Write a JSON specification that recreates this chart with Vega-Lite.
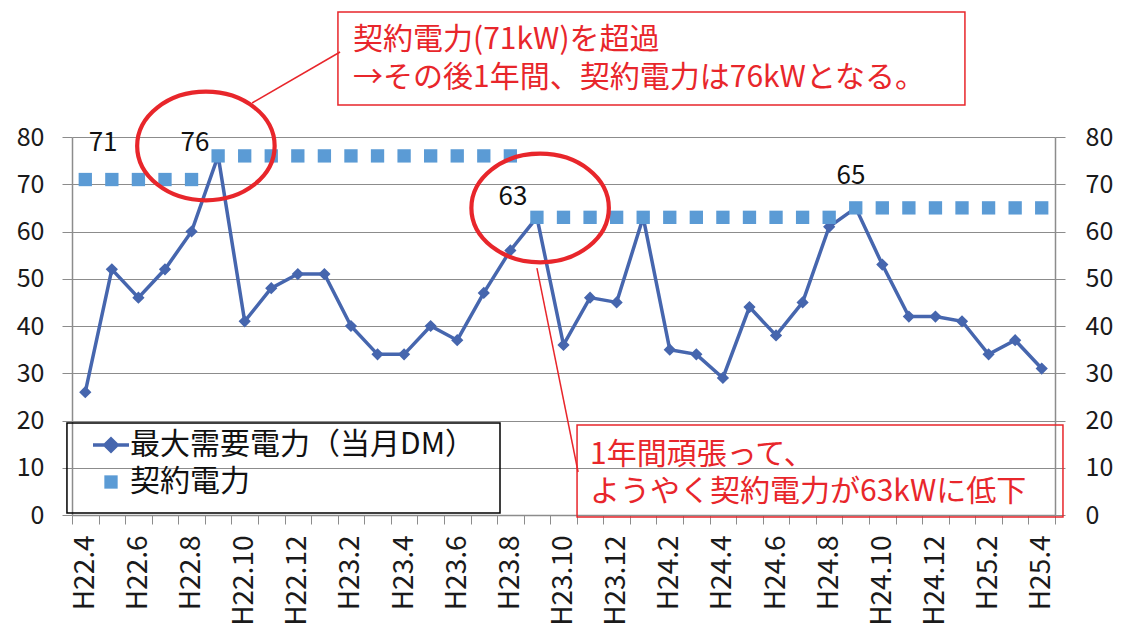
{
  "$schema": "https://vega.github.io/schema/vega-lite/v6.json",
  "width": 983,
  "height": 378,
  "autosize": {"type": "none"},
  "padding": {"left": 72, "top": 137, "right": 72, "bottom": 108},
  "background": "white",
  "config": {
    "font": "Noto Sans CJK JP",
    "view": {"stroke": null},
    "legend": {
      "labelFontSize": 30,
      "labelColor": "#111111",
      "labelFont": "Noto Sans CJK JP",
      "labelLimit": 500,
      "symbolSize": 1296,
      "rowPadding": 7,
      "labelOffset": 4,
      "padding": 0
    }
  },
  "datasets": {
    "m": [
      {"month": "H22.4", "i": 0, "demand": 26, "contract": 71},
      {"month": "H22.5", "i": 1, "demand": 52, "contract": 71},
      {"month": "H22.6", "i": 2, "demand": 46, "contract": 71},
      {"month": "H22.7", "i": 3, "demand": 52, "contract": 71},
      {"month": "H22.8", "i": 4, "demand": 60, "contract": 71},
      {"month": "H22.9", "i": 5, "demand": 76, "contract": 76},
      {"month": "H22.10", "i": 6, "demand": 41, "contract": 76},
      {"month": "H22.11", "i": 7, "demand": 48, "contract": 76},
      {"month": "H22.12", "i": 8, "demand": 51, "contract": 76},
      {"month": "H23.1", "i": 9, "demand": 51, "contract": 76},
      {"month": "H23.2", "i": 10, "demand": 40, "contract": 76},
      {"month": "H23.3", "i": 11, "demand": 34, "contract": 76},
      {"month": "H23.4", "i": 12, "demand": 34, "contract": 76},
      {"month": "H23.5", "i": 13, "demand": 40, "contract": 76},
      {"month": "H23.6", "i": 14, "demand": 37, "contract": 76},
      {"month": "H23.7", "i": 15, "demand": 47, "contract": 76},
      {"month": "H23.8", "i": 16, "demand": 56, "contract": 76},
      {"month": "H23.9", "i": 17, "demand": 63, "contract": 63},
      {"month": "H23.10", "i": 18, "demand": 36, "contract": 63},
      {"month": "H23.11", "i": 19, "demand": 46, "contract": 63},
      {"month": "H23.12", "i": 20, "demand": 45, "contract": 63},
      {"month": "H24.1", "i": 21, "demand": 63, "contract": 63},
      {"month": "H24.2", "i": 22, "demand": 35, "contract": 63},
      {"month": "H24.3", "i": 23, "demand": 34, "contract": 63},
      {"month": "H24.4", "i": 24, "demand": 29, "contract": 63},
      {"month": "H24.5", "i": 25, "demand": 44, "contract": 63},
      {"month": "H24.6", "i": 26, "demand": 38, "contract": 63},
      {"month": "H24.7", "i": 27, "demand": 45, "contract": 63},
      {"month": "H24.8", "i": 28, "demand": 61, "contract": 63},
      {"month": "H24.9", "i": 29, "demand": 65, "contract": 65},
      {"month": "H24.10", "i": 30, "demand": 53, "contract": 65},
      {"month": "H24.11", "i": 31, "demand": 42, "contract": 65},
      {"month": "H24.12", "i": 32, "demand": 42, "contract": 65},
      {"month": "H25.1", "i": 33, "demand": 41, "contract": 65},
      {"month": "H25.2", "i": 34, "demand": 34, "contract": 65},
      {"month": "H25.3", "i": 35, "demand": 37, "contract": 65},
      {"month": "H25.4", "i": 36, "demand": 31, "contract": 65}
    ]
  },
  "layer": [
    {
      "data": {"name": "m"},
      "mark": {"type": "line", "color": "#4666AE", "strokeWidth": 3.5},
      "encoding": {
        "x": {
          "field": "i", "type": "quantitative",
          "scale": {"domain": [-0.5, 36.5], "nice": false, "zero": false},
          "axis": {
            "orient": "bottom", "title": null,
            "values": [0, 2, 4, 6, 8, 10, 12, 14, 16, 18, 20, 22, 24, 26, 28, 30, 32, 34, 36],
            "labelExpr": "'H' + (22 + floor((datum.value + 3) / 12)) + '.' + ((datum.value + 3) % 12 + 1)",
            "labelAngle": 270, "labelFontSize": 28, "labelColor": "#1a1a1a",
            "labelPadding": 20, "ticks": false, "domain": false, "grid": false,
            "labelOverlap": false, "labelBound": false, "labelFlush": false
          }
        },
        "y": {
          "field": "demand", "type": "quantitative",
          "scale": {"domain": [0, 80], "nice": false},
          "axis": {
            "orient": "left", "title": null,
            "values": [0, 10, 20, 30, 40, 50, 60, 70, 80],
            "grid": true, "gridColor": "#8c8c8c", "gridWidth": 1.2,
            "domainColor": "#8c8c8c", "domainWidth": 1.5, "tickColor": "#8c8c8c", "tickSize": 10,
            "labelPadding": 18, "labelFontSize": 25, "labelColor": "#1a1a1a"
          }
        }
      }
    },
    {
      "data": {"name": "m"},
      "transform": [{"fold": ["demand", "contract"], "as": ["series", "kW"]}],
      "mark": {"type": "point", "filled": true, "opacity": 1, "size": 1296},
      "encoding": {
        "x": {
          "field": "i", "type": "quantitative",
          "axis": {
            "orient": "bottom", "title": null,
            "values": [-0.5, 0.5, 1.5, 2.5, 3.5, 4.5, 5.5, 6.5, 7.5, 8.5, 9.5, 10.5, 11.5, 12.5, 13.5, 14.5, 15.5, 16.5, 17.5, 18.5, 19.5, 20.5, 21.5, 22.5, 23.5, 24.5, 25.5, 26.5, 27.5, 28.5, 29.5, 30.5, 31.5, 32.5, 33.5, 34.5, 35.5, 36.5],
            "labels": false, "ticks": true, "tickSize": 9, "tickColor": "#8c8c8c",
            "domain": true, "domainColor": "#8c8c8c", "domainWidth": 1.5, "grid": false
          }
        },
        "y": {
          "field": "kW", "type": "quantitative",
          "axis": {
            "orient": "right", "title": null,
            "values": [0, 10, 20, 30, 40, 50, 60, 70, 80],
            "grid": false,
            "domainColor": "#8c8c8c", "domainWidth": 1.5, "tickColor": "#8c8c8c", "tickSize": 10,
            "labelPadding": 20, "labelFontSize": 25, "labelColor": "#1a1a1a"
          }
        },
        "color": {
          "field": "series", "type": "nominal",
          "scale": {"domain": ["demand", "contract"], "range": ["#4666AE", "#5B9BD5"]},
          "legend": {
            "orient": "none", "legendX": 24, "legendY": 293, "title": null,
            "labelExpr": "datum.label === 'demand' ? '最大需要電力（当月DM）' : '契約電力'",
            "symbolOpacity": 1,
            "encode": {"symbols": {"update": {
              "stroke": {"value": "#4666AE"},
              "strokeWidth": {"signal": "datum.value === 'contract' ? 0 : 3.5"}
            }}}
          }
        },
        "shape": {
          "field": "series", "type": "nominal",
          "scale": {"domain": ["demand", "contract"], "range": ["M -1 0 L 1 0 M 0 -0.34 L 0.34 0 L 0 0.34 L -0.34 0 Z", "M -0.37 -0.37 L 0.37 -0.37 L 0.37 0.37 L -0.37 0.37 Z"]},
          "legend": {
            "orient": "none", "legendX": 24, "legendY": 293, "title": null,
            "labelExpr": "datum.label === 'demand' ? '最大需要電力（当月DM）' : '契約電力'",
            "symbolOpacity": 1,
            "encode": {"symbols": {"update": {
              "stroke": {"value": "#4666AE"},
              "strokeWidth": {"signal": "datum.value === 'contract' ? 0 : 3.5"}
            }}}
          }
        }
      }
    },
    {
      "data": {"values": [
        {"box": "legend", "x1": -0.69, "x2": 15.61, "y1": 0.42, "y2": 19.47}
      ]},
      "mark": {"type": "rect", "filled": false, "stroke": "#000000", "strokeWidth": 1.5},
      "encoding": {
        "x": {"field": "x1", "type": "quantitative", "axis": null},
        "x2": {"field": "x2"},
        "y": {"field": "y1", "type": "quantitative", "axis": null},
        "y2": {"field": "y2"}
      }
    },
    {
      "data": {"values": [
        {"box": "top", "x1": 9.51, "x2": 33.11, "y1": 86.77, "y2": 106.46},
        {"box": "bottom", "x1": 18.51, "x2": 36.8, "y1": -0.42, "y2": 19.05}
      ]},
      "mark": {"type": "rect", "filled": false, "stroke": "#E8262B", "strokeWidth": 1.5},
      "encoding": {
        "x": {"field": "x1", "type": "quantitative", "axis": null},
        "x2": {"field": "x2"},
        "y": {"field": "y1", "type": "quantitative", "axis": null},
        "y2": {"field": "y2"}
      }
    },
    {
      "data": {"values": [
        {"line": "top", "x1": 6.28, "x2": 9.59, "y1": 87.2, "y2": 97.99},
        {"line": "bottom", "x1": 17.0, "x2": 18.55, "y1": 52.27, "y2": 9.1}
      ]},
      "mark": {"type": "rule", "color": "#E8262B", "strokeWidth": 1.5},
      "encoding": {
        "x": {"field": "x1", "type": "quantitative", "axis": null},
        "x2": {"field": "x2"},
        "y": {"field": "y1", "type": "quantitative", "axis": null},
        "y2": {"field": "y2"}
      }
    },
    {
      "data": {"values": [
        {"ring": "76", "i": 4.54, "v": 78.1},
        {"ring": "63", "i": 17.12, "v": 64.97}
      ]},
      "mark": {
        "type": "point", "filled": false, "opacity": 1, "color": "#E8262B", "strokeWidth": 4.2,
        "size": 18900,
        "shape": "M -1 0 A 1 0.79 0 1 1 1 0 A 1 0.79 0 1 1 -1 0 Z"
      },
      "encoding": {
        "x": {"field": "i", "type": "quantitative", "axis": null},
        "y": {"field": "v", "type": "quantitative", "axis": null}
      }
    },
    {
      "data": {"values": [
        {"t": "71", "i": 0.67, "v": 78.73},
        {"t": "76", "i": 4.13, "v": 78.73},
        {"t": "63", "i": 16.1, "v": 67.3},
        {"t": "65", "i": 28.82, "v": 71.75}
      ]},
      "mark": {"type": "text", "fontSize": 26, "color": "#111111", "align": "center", "baseline": "middle"},
      "encoding": {
        "x": {"field": "i", "type": "quantitative", "axis": null},
        "y": {"field": "v", "type": "quantitative", "axis": null},
        "text": {"field": "t"}
      }
    },
    {
      "data": {"values": [
        {"t": "契約電力(71kW)を超過", "i": 10.08, "v": 100.53},
        {"t": "→その後1年間、契約電力は76kWとなる。", "i": 10.08, "v": 92.49},
        {"t": "1年間頑張って、", "i": 19.0, "v": 12.7},
        {"t": "ようやく契約電力が63kWに低下", "i": 19.0, "v": 4.87}
      ]},
      "mark": {"type": "text", "fontSize": 30, "color": "#E8262B", "align": "left", "baseline": "middle"},
      "encoding": {
        "x": {"field": "i", "type": "quantitative", "axis": null},
        "y": {"field": "v", "type": "quantitative", "axis": null},
        "text": {"field": "t"}
      }
    }
  ],
  "resolve": {"axis": {"x": "independent", "y": "independent"}}
}
